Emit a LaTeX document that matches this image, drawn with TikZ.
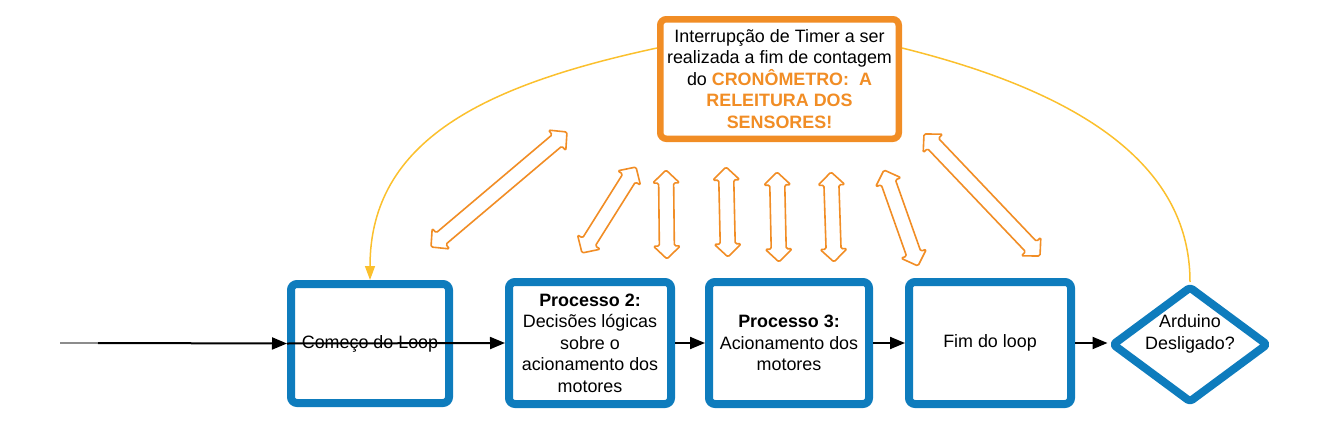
\documentclass[tikz,border=0pt]{standalone}
\usepackage{fontspec}
\setmainfont{Liberation Sans}
\usetikzlibrary{shapes.geometric,arrows.meta,calc}
\definecolor{bblue}{RGB}{14,124,189}
\definecolor{orng}{RGB}{241,141,37}
\definecolor{ylw}{RGB}{251,192,45}
\begin{document}
\begin{tikzpicture}[x=1pt,y=-1pt,
  txt/.style={font=\fontsize{17.9}{21.5}\selectfont, align=center, text=black},
  bluebox/.style={draw=bblue, line width=8pt, rounded corners=6pt, fill=white, inner sep=0pt, txt},
  orangebox/.style={draw=orng, line width=6.5pt, rounded corners=6pt, fill=white, inner sep=0pt, txt},
  decision/.style={diamond, draw=bblue, line width=8pt, rounded corners=3pt, line join=round, fill=white, inner sep=0pt},
  flow/.style={draw=black, line width=2pt, -{Triangle[length=15pt,width=12pt]}},
  yarc/.style={draw=ylw, line width=1.5pt},
  darrowline/.style={draw=orng, line width=1.6pt, rounded corners=1.5pt, line join=round, fill=white},
  hl/.style={font=\bfseries\fontsize{17.9}{21.5}\selectfont, text=orng}
]
\useasboundingbox (0,0) rectangle (1331,423);

% process boxes
\node[bluebox, minimum width=158pt, minimum height=119pt] (b1) at (370,343.5) {Começo do Loop};
\node[bluebox, minimum width=162pt, minimum height=122pt] (b2) at (590,343) {\textbf{Processo 2:}\\Decisões lógicas\\sobre o\\acionamento dos\\motores};
\node[bluebox, minimum width=160pt, minimum height=122pt] (b3) at (789,343) {\textbf{Processo 3:}\\Acionamento dos\\motores};
\node[bluebox, minimum width=162pt, minimum height=122pt] (b4) at (990,343) {Fim do loop};
\node[decision, minimum width=157pt, minimum height=117pt] (d) at (1190,344.5) {};
\node[txt] (dt) at (1190,334) {Arduino\\Desligado?};

% timer interrupt box
\node[orangebox, minimum width=238.5pt, minimum height=119.5pt] (o) at (779.5,79)
  {Interrupção de Timer a ser\\realizada a fim de contagem\\do {\bfseries\color{orng}CRONÔMETRO:~ A}\\{\bfseries\color{orng}RELEITURA DOS}\\{\bfseries\color{orng}SENSORES!}};

% main flow
\coordinate (s0) at (60,343);
\coordinate (s1) at (98,343);
\draw[line width=1.5pt, black!45] (s0) -- (s1);
\draw[flow] (s1) -- (b1.west);
\draw[flow] (b1.west) -- (b2.west);
\draw[flow] (b2.east) -- (b3.west);
\draw[flow] (b3.east) -- (b4.west);
\draw[flow] (b4.east) -- (b4.east -| d.west);

% yellow arcs
\draw[yarc, -{Triangle[length=14pt,width=10pt]}] ([yshift=31pt]o.west) .. controls (485,85) and (370,140) .. (b1.north);
\draw[yarc] ([yshift=31pt]o.east) .. controls (1116,101) and (1190,185) .. (d.north);

% hollow double arrows
\foreach \xa/\ya/\xb/\yb in {431/247/567/132, 582/253/636/167, 666/170/667/259, 726/167/728/257, 777/172/779/262, 831/172/834/262, 884/170/918/266, 924/134/1040/256}{
  \pgfmathsetmacro\ang{atan2(-(\yb-\ya),\xb-\xa)}
  \pgfmathsetmacro\len{veclen(\xb-\xa,\yb-\ya)}
  \begin{scope}[shift={(\xa,\ya)}, rotate=\ang]
    \draw[darrowline] (0,0) -- (13,13.5) -- (13,7.5) -- (\len-13,7.5) -- (\len-13,13.5) -- (\len,0) -- (\len-13,-13.5) -- (\len-13,-7.5) -- (13,-7.5) -- (13,-13.5) -- cycle;
  \end{scope}
}
\end{tikzpicture}
\end{document}
